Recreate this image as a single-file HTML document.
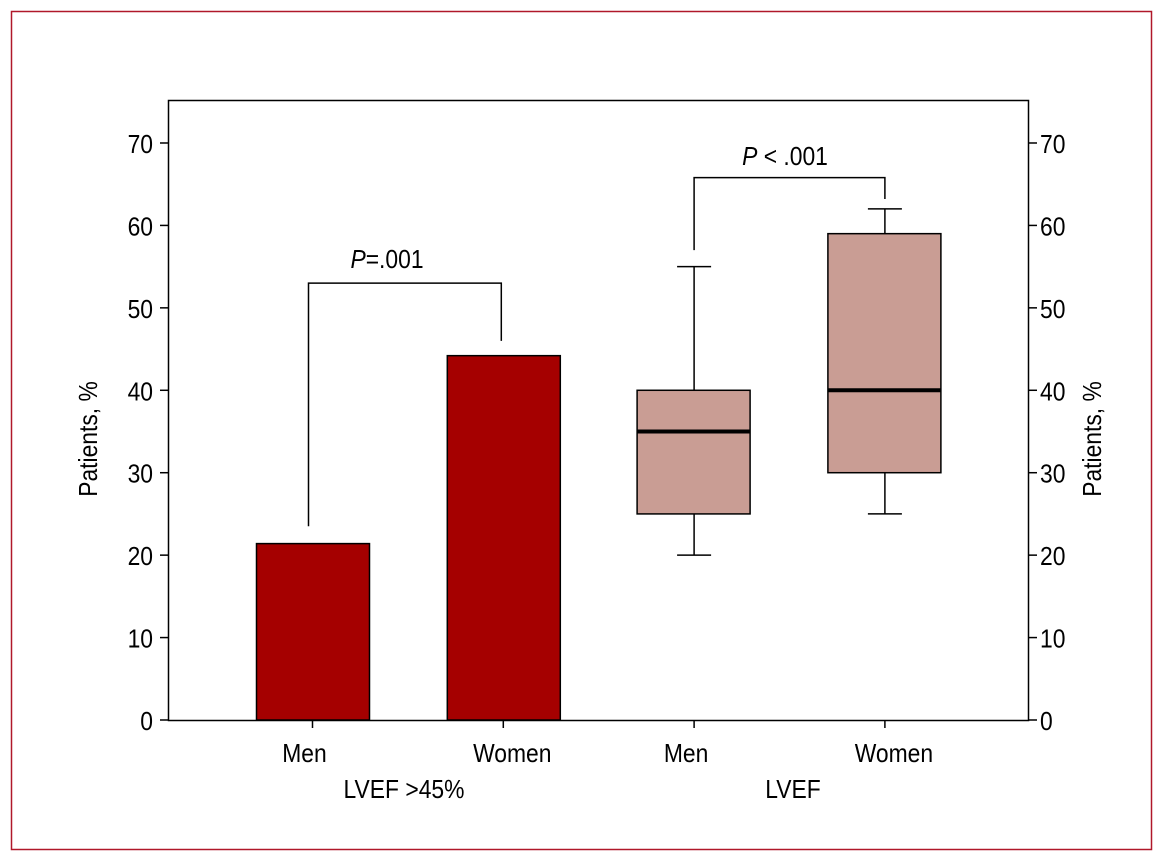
<!DOCTYPE html>
<html><head><meta charset="utf-8"><style>
html,body{margin:0;padding:0;background:#fff;}
svg{display:block;}
text{font-family:"Liberation Sans",sans-serif;fill:#000;}
</style></head><body>
<svg id="chart" width="1163" height="860" viewBox="0 0 1163 860" xmlns="http://www.w3.org/2000/svg">
<rect x="11.5" y="11.5" width="1140" height="838" fill="none" stroke="#b0182a" stroke-width="1.5"/>
<rect x="168.5" y="100.5" width="860" height="620" fill="none" stroke="#000" stroke-width="1.5"/>
<g id="ticks"></g>
<g id="marks"></g>
<text font-size="26" text-anchor="middle" transform="translate(97 439) rotate(-90) scale(0.88 1)">Patients, %</text>
<text font-size="26" text-anchor="middle" transform="translate(1101 439) rotate(-90) scale(0.88 1)">Patients, %</text>
<text font-size="26" text-anchor="middle" transform="translate(404 798) scale(0.88 1)">LVEF &gt;45%</text>
<text font-size="26" text-anchor="middle" transform="translate(793 798) scale(0.88 1)">LVEF</text>
<text font-size="26" text-anchor="middle" transform="translate(387 268) scale(0.88 1)"><tspan font-style="italic">P</tspan>=.001</text>
<text font-size="26" text-anchor="middle" transform="translate(785 165) scale(0.88 1)"><tspan font-style="italic">P</tspan> &lt; .001</text>
</svg>
<script>
const yTicks=[0,10,20,30,40,50,60,70];
const barCategories=["Men","Women"];
const barValues=[21.4,44.2];
const boxCategories=["Men","Women"];
const boxMin=[20,25];
const boxQ1=[25,30];
const boxMedian=[35,40];
const boxQ3=[40,59];
const boxMax=[55,62];
const bracketLeft=[23.5,53,46];
const bracketRight=[57,65.8,63.2];

const NS="http://www.w3.org/2000/svg";
function y(v){return 720-v*8.243;}
function xc(i){return 312.5+i*190.8;}
const BW=113;
function el(tag,attrs,parent){const e=document.createElementNS(NS,tag);for(const k in attrs)e.setAttribute(k,attrs[k]);parent.appendChild(e);return e;}
function txt(x,yy,s,anchor,parent){const t=el('text',{'font-size':26,'text-anchor':anchor,transform:`translate(${x} ${yy}) scale(0.88 1)`},parent);t.textContent=s;return t;}
const T=document.getElementById('ticks'),M=document.getElementById('marks');
yTicks.forEach(t=>{
 const l=el('line',{x1:160,x2:168,y1:y(t),y2:y(t),stroke:'#000','stroke-width':1.5},T);
 
 
 const r=el('line',{x1:1029,x2:1037,y1:y(t),y2:y(t),stroke:'#000','stroke-width':1.5},T);
 
 
 const a=txt(153,y(t)+10,t,'end',T);
 
 
 const b=txt(1040,y(t)+10,t,'start',T);
 
 
});
const allCats=barCategories.concat(boxCategories);
allCats.forEach((c,i)=>{
 const tk=el('line',{x1:xc(i),x2:xc(i),y1:720,y2:728,stroke:'#000','stroke-width':1.5},T);
 
 
 const t=txt(xc(i)-8+(i%2)*17,762,c,'middle',T);
 
 
});
barValues.forEach((v,i)=>{
 const r=el('rect',{x:xc(i)-56,y:y(v),width:BW,height:720-y(v),fill:'#a50000',stroke:'#000','stroke-width':1.5},M);
 
 
});
boxQ1.forEach((q,j)=>{
 const i=j+2,cx=xc(i);
 const g=el('g',{},M);
 
 
 el('line',{x1:cx,x2:cx,y1:y(boxMax[j]),y2:y(boxMin[j]),stroke:'#000','stroke-width':1.5},g);
 el('line',{x1:cx-17,x2:cx+17,y1:y(boxMax[j]),y2:y(boxMax[j]),stroke:'#000','stroke-width':1.5},g);
 el('line',{x1:cx-17,x2:cx+17,y1:y(boxMin[j]),y2:y(boxMin[j]),stroke:'#000','stroke-width':1.5},g);
 el('rect',{x:cx-57,y:y(boxQ3[j]),width:BW,height:y(q)-y(boxQ3[j]),fill:'#c99d94',stroke:'#000','stroke-width':1.5},g);
 el('line',{x1:cx-57,x2:cx+56,y1:y(boxMedian[j]),y2:y(boxMedian[j]),stroke:'#000','stroke-width':4},g);
});
function bracket(b,x0,x1,name){
 const p=el('path',{d:`M${x0},${y(b[0])} V${y(b[1])} H${x1} V${y(b[2])}`,fill:'none',stroke:'#000','stroke-width':1.5},M);
 
 
}
bracket(bracketLeft,xc(0)-4,xc(1)-2,'significance-bracket-left');
bracket(bracketRight,xc(2),xc(3),'significance-bracket-right');
</script>
</body></html>
